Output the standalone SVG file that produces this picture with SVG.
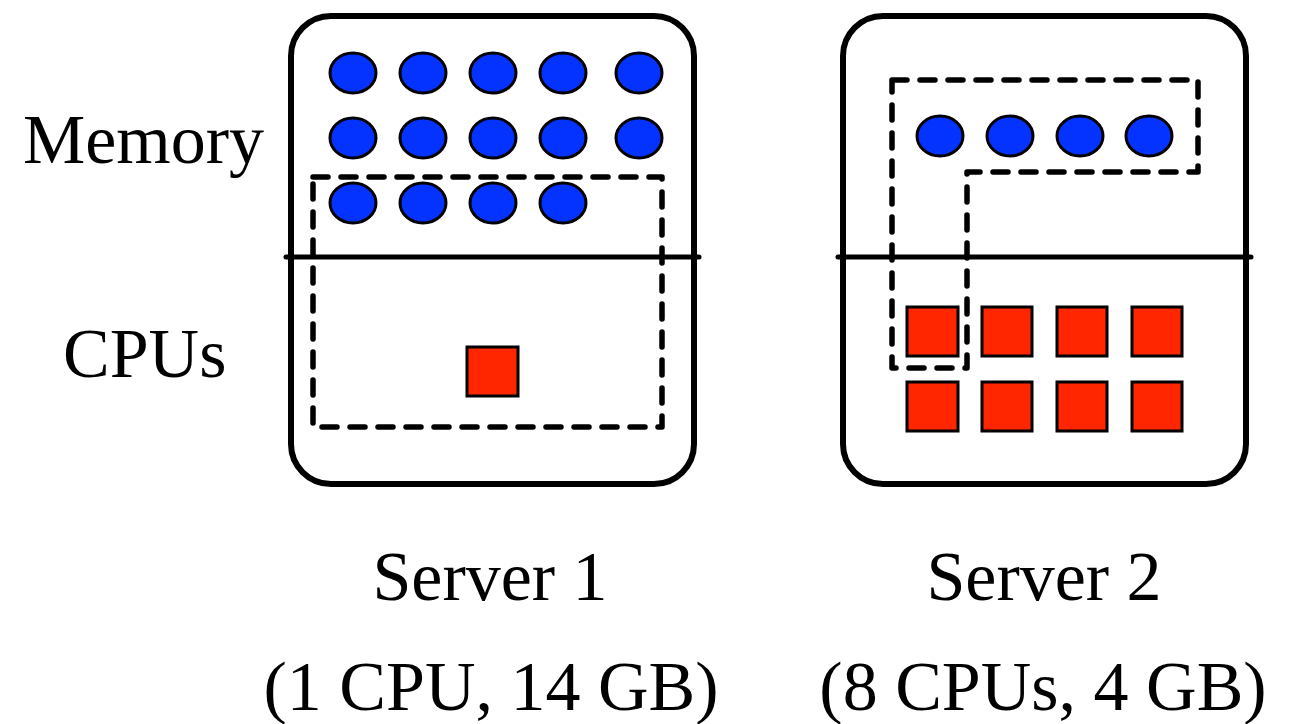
<svg xmlns="http://www.w3.org/2000/svg" width="1299" height="724" viewBox="0 0 1299 724">
<style>
.box{fill:#fff;stroke:#000;stroke-width:6}
.div{stroke:#000;stroke-width:5;stroke-linecap:round}
.mem{fill:#0433ff;stroke:#000;stroke-width:3}
.cpu{fill:#ff2600;stroke:#000;stroke-width:3}
.dash{fill:none;stroke:#000;stroke-width:5.5;stroke-dasharray:15 13;stroke-linecap:round;stroke-linejoin:round}
text{font-family:"Liberation Serif","Times New Roman",serif;font-size:70px;fill:#000}
</style>
<rect width="1299" height="724" fill="#fff"/>
<g id="labels">
<text x="23" y="163">Memory</text>
<text x="63" y="377">CPUs</text>
</g>
<g id="server1">
<rect class="box" x="291" y="16" width="403" height="468" rx="40"/>
<line class="div" x1="286" y1="257" x2="699" y2="257"/>
<ellipse class="mem" cx="353" cy="73" rx="23" ry="20"/>
<ellipse class="mem" cx="423" cy="73" rx="23" ry="20"/>
<ellipse class="mem" cx="493" cy="73" rx="23" ry="20"/>
<ellipse class="mem" cx="563" cy="73" rx="23" ry="20"/>
<ellipse class="mem" cx="639" cy="73" rx="23" ry="20"/>
<ellipse class="mem" cx="353" cy="138" rx="23" ry="20"/>
<ellipse class="mem" cx="423" cy="138" rx="23" ry="20"/>
<ellipse class="mem" cx="493" cy="138" rx="23" ry="20"/>
<ellipse class="mem" cx="563" cy="138" rx="23" ry="20"/>
<ellipse class="mem" cx="639" cy="138" rx="23" ry="20"/>
<ellipse class="mem" cx="353" cy="203" rx="23" ry="20"/>
<ellipse class="mem" cx="423" cy="203" rx="23" ry="20"/>
<ellipse class="mem" cx="493" cy="203" rx="23" ry="20"/>
<ellipse class="mem" cx="563" cy="203" rx="23" ry="20"/>
<rect class="cpu" x="467" y="347" width="51" height="49"/>
<rect class="dash" x="313" y="177" width="349" height="250"/>
<text x="490" y="600" text-anchor="middle">Server 1</text>
<text x="491" y="710" text-anchor="middle">(1 CPU, 14 GB)</text>
</g>
<g id="server2">
<rect class="box" x="843" y="16" width="403" height="468" rx="40"/>
<line class="div" x1="838" y1="257" x2="1251" y2="257"/>
<ellipse class="mem" cx="940" cy="136" rx="23" ry="20"/>
<ellipse class="mem" cx="1010" cy="136" rx="23" ry="20"/>
<ellipse class="mem" cx="1080" cy="136" rx="23" ry="20"/>
<ellipse class="mem" cx="1149" cy="136" rx="23" ry="20"/>
<rect class="cpu" x="907" y="307" width="51" height="49"/>
<rect class="cpu" x="982" y="307" width="50" height="49"/>
<rect class="cpu" x="1057" y="307" width="50" height="49"/>
<rect class="cpu" x="1132" y="307" width="50" height="49"/>
<rect class="cpu" x="907" y="382" width="51" height="49"/>
<rect class="cpu" x="982" y="382" width="50" height="49"/>
<rect class="cpu" x="1057" y="382" width="50" height="49"/>
<rect class="cpu" x="1132" y="382" width="50" height="49"/>
<path class="dash" d="M892,80 H1198 V172 H967 V368 H892 Z"/>
<text x="1044" y="600" text-anchor="middle">Server 2</text>
<text x="1043" y="710" text-anchor="middle">(8 CPUs, 4 GB)</text>
</g>
<g id="connectors"></g>
</svg>
